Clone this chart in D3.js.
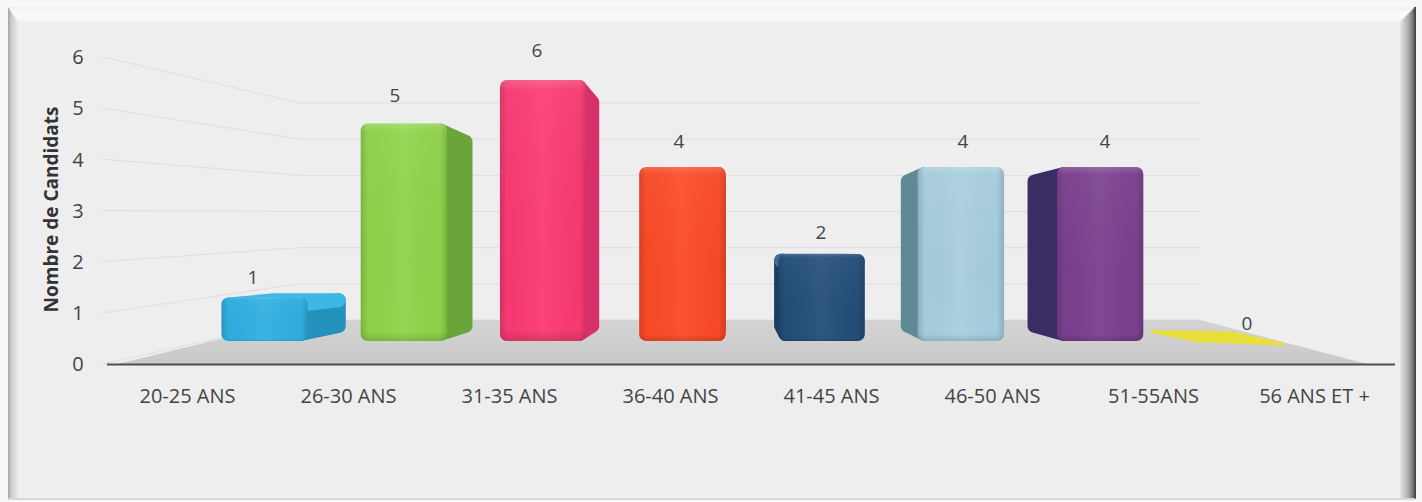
<!DOCTYPE html>
<html><head><meta charset="utf-8">
<script src="https://cdn.jsdelivr.net/npm/d3@7"></script>
<style>
html,body{margin:0;padding:0;background:#f7f7f7;}
svg{display:block;}
text{font-family:"Open Sans","Noto Sans",sans-serif;}
</style></head>
<body>
<svg id="chart" width="1422" height="502"></svg>
<script>
// ---- data ----
const categories = ["20-25 ANS","26-30 ANS","31-35 ANS","36-40 ANS","41-45 ANS","46-50 ANS","51-55ANS","56 ANS ET +"];
const values = [1,5,6,4,2,4,4,0];
const yTicks = [0,1,2,3,4,5,6];
const axisTitle = "Nombre de Candidats";
const frontColors = ["#2fb0e2","#8fd549","#fb3a72","#fc4a27","#234e79","#a8cfe0","#7b3f90","#e8df3a"];
const sideColors  = ["#2492bb","#69a53a","#d8306a","#d83b1e","#1a3d60","#5e8a98","#3b2c63","#d6cc2e"];
const topColors   = ["#3db8e6","#9bdc58","#ff5286","#ff6444","#3c6f9e","#bfe0ec","#93559f","#efe65a"];

const svg = d3.select("#chart");

// ---- defs ----
const defs = svg.append("defs");
function lin(id, horiz, stops){
  const g = defs.append("linearGradient").attr("id",id)
    .attr("x1","0").attr("y1","0").attr("x2",horiz?"1":"0").attr("y2",horiz?"0":"1");
  stops.forEach(([o,c,a]) => g.append("stop").attr("offset",o).attr("stop-color",c).attr("stop-opacity",a==null?1:a));
}
lin("gl",true,[[0,"#a6a6a6"],[0.35,"#cdcdcd"],[1,"#ececec"]]);
lin("gr",true,[[0,"#e6e6e6"],[0.6,"#a8a8a8"],[1,"#5a5a5a"]]);
lin("gt",false,[[0,"#f2f2f2"],[0.5,"#fbfbfb"],[1,"#f4f4f4"]]);
lin("gf",false,[[0,"#d3d3d3"],[1,"#cacaca"]]);
lin("shadeH",true,[[0,"#000",0.16],[0.08,"#000",0.02],[0.5,"#fff",0.05],[0.92,"#000",0.02],[1,"#000",0.16]]);
lin("shadeV",false,[[0,"#fff",0.18],[0.04,"#fff",0.04],[0.96,"#000",0.0],[1,"#000",0.14]]);

// ---- frame ----
const fx0 = 8, fy0 = 7, fx1 = 1415, fy1 = 499, bev = 15;
svg.append("rect").attr("x",fx0).attr("y",fy0).attr("width",fx1-fx0).attr("height",fy1-fy0).attr("fill","#eeeeef");
svg.append("path").attr("d",`M${fx0},${fy0}L${fx1},${fy0}L${fx1-bev},${fy0+bev}L${fx0+bev-5},${fy0+bev}Z`).attr("fill","url(#gt)");
svg.append("path").attr("d",`M${fx0},${fy0}L${fx0+bev-5},${fy0+bev}L${fx0+bev-5},${fy1}L${fx0},${fy1}Z`).attr("fill","url(#gl)");
svg.append("path").attr("d",`M${fx1},${fy0}L${fx1},${fy1}L${fx1-bev},${fy1}L${fx1-bev},${fy0+bev}Z`).attr("fill","url(#gr)");
svg.append("line").attr("x1",fx1).attr("x2",fx1).attr("y1",fy0).attr("y2",fy1).attr("stroke","#4a4a4a").attr("stroke-width",2);
svg.append("line").attr("x1",fx0).attr("x2",fx1).attr("y1",fy1).attr("y2",fy1).attr("stroke","#d8d8d8").attr("stroke-width",2);

// ---- scales ----
const xFront = d3.scaleBand().domain(categories).range([107,1395]);          // front edge (category labels)
const yAxis  = d3.scaleLinear().domain([0,6]).range([364,57]);               // axis tick labels
const yBack  = d3.scaleLinear().domain([0,6]).range([320,103]);              // back wall
const xBar   = d3.scaleBand().domain(categories).range([195,1309]).paddingInner(0.38).paddingOuter(0.19);
const yBar   = d3.scaleLinear().domain([0,6]).range([341,80]);
const xLab   = d3.scaleBand().domain(categories).range([182,1318]);
const yLab   = d3.scaleLinear().domain([0,6]).range([323,50]);
const backLeft = 300, backRight = 1200, sideStart = 103;

// perspective for bar depth
const vp = {x:730, y:250}, depthK = 0.91;
const proj = ([x,y]) => [vp.x + (x-vp.x)*depthK, vp.y + (y-vp.y)*depthK];

// ---- gridlines (side wall + back wall) ----
const grid = svg.append("g").attr("fill","none").attr("stroke","#dedede").attr("stroke-width",1);
yTicks.forEach(t => {
  grid.append("path").attr("d",`M${sideStart},${yAxis(t)}L${backLeft},${yBack(t)}L${backRight},${yBack(t)}`);
});

// ---- floor ----
const x0f = xFront.range()[0], x1f = xFront.range()[1];
svg.append("path")
  .attr("d",`M${x0f+10},${yAxis(0)}L${backLeft},${yBack(0)}L${backRight},${yBack(0)}L${x1f-28},${yAxis(0)}Z`)
  .attr("fill","url(#gf)");

// ---- bars ----
const bars = svg.append("g");
const poly = pts => "M" + pts.map(p => p.join(",")).join("L") + "Z";
categories.forEach((c,i) => {
  const x0 = xBar(c), x1 = x0 + xBar.bandwidth();
  const yT = yBar(values[i]), yB = yBar(0);
  const g = bars.append("g").attr("stroke-linejoin","round");
  const r = 7;
  const F = [[x0,yT],[x1,yT],[x1,yB],[x0,yB]];
  const Bk = F.map(proj);
  const h = yB - yT;
  if (h > 0.5) {
    // extruded body: inset outline stroked with 2r round joins = rounded solid
    let body = null;
    if (x1 < vp.x) body = [[x1-r,yT+r],[Bk[1][0]-r,Bk[1][1]+r],[Bk[2][0]-r,Bk[2][1]-r],[x1-r,yB-r]];
    else if (x0 > vp.x) body = [[x0+r,yT+r],[Bk[0][0]+r,Bk[0][1]+r],[Bk[3][0]+r,Bk[3][1]-r],[x0+r,yB-r]];
    if (body) {
      g.append("path").attr("d",poly(body)).attr("fill",sideColors[i]).attr("stroke",sideColors[i]).attr("stroke-width",2*r);
    }
    // top face
    if (yT > vp.y) {
      g.append("path").attr("d",poly([[x0+r,yT+r],[x1-r,yT+r],[Bk[1][0]-r,Bk[1][1]+r],[Bk[0][0]+r,Bk[0][1]+r]]))
        .attr("fill",topColors[i]).attr("stroke",topColors[i]).attr("stroke-width",2*r);
    }
    // front face
    g.append("rect").attr("x",x0).attr("y",yT).attr("width",x1-x0).attr("height",h).attr("rx",r).attr("fill",frontColors[i]);
    g.append("rect").attr("x",x0).attr("y",yT).attr("width",x1-x0).attr("height",h).attr("rx",r).attr("fill","url(#shadeH)");
    g.append("rect").attr("x",x0).attr("y",yT).attr("width",x1-x0).attr("height",h).attr("rx",r).attr("fill","url(#shadeV)");
  } else {
    // zero value: flat plate lying on the floor
    g.append("path").attr("d",poly([[x0+4,yB],[x1,yB+3],[Bk[1][0]-2,Bk[1][1]],[Bk[0][0]-2,Bk[0][1]-1]]))
      .attr("fill",frontColors[i]).attr("stroke",frontColors[i]).attr("stroke-width",3);
  }
});

// ---- axis line ----
svg.append("line").attr("x1",x0f).attr("x2",x1f).attr("y1",yAxis(0)+0.5).attr("y2",yAxis(0)+0.5)
  .attr("stroke","#4e4e4e").attr("stroke-width",2);

// ---- y tick labels ----
svg.append("g").selectAll("text").data(yTicks).join("text")
  .attr("x",78).attr("y",d => yAxis(d)).attr("dy","0.36em").attr("text-anchor","middle")
  .attr("font-size",20).attr("fill","#444").text(d => d);

// ---- axis title ----
svg.append("text").attr("transform",`translate(58,${(yAxis(0)+yAxis(6))/2 - 1}) rotate(-90)`)
  .attr("text-anchor","middle").attr("font-size",19).attr("font-weight","bold").attr("fill","#333")
  .text(axisTitle);

// ---- category labels ----
svg.append("g").selectAll("text").data(categories).join("text")
  .attr("x",d => xFront(d) + xFront.bandwidth()/2).attr("y",396).attr("dy","0.36em")
  .attr("text-anchor","middle").attr("font-size",20).attr("fill","#444").text(d => d);

// ---- value labels ----
svg.append("g").selectAll("text").data(categories).join("text")
  .attr("x",d => xLab(d) + xLab.bandwidth()/2).attr("y",(d,i) => yLab(values[i])).attr("dy","0.36em")
  .attr("text-anchor","middle").attr("font-size",19).attr("fill","#444").text((d,i) => values[i]);
</script>
</body></html>
